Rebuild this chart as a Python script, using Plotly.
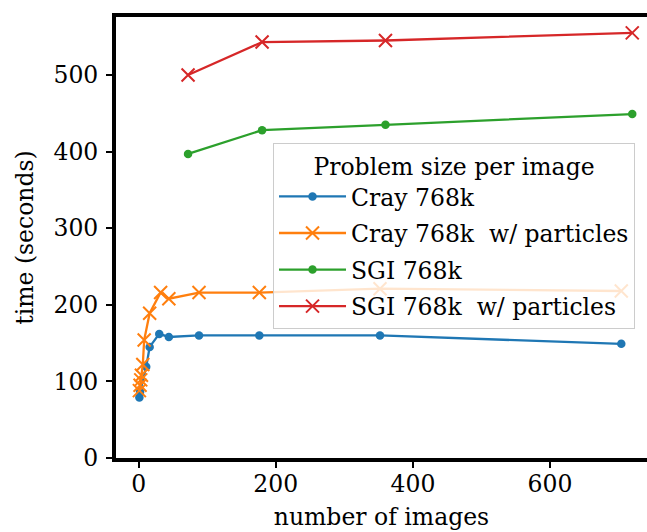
import plotly.graph_objects as go

# ---- data ----
cray_x = [1, 2, 11, 16, 30, 44, 88, 176, 352, 704]
cray_y = [79, 86, 119, 145, 162, 158, 160, 160, 160, 149]

cray_p_x = [1, 2, 3, 4, 6, 8, 16, 32, 44, 88, 176, 352, 704]
cray_p_y = [88, 95, 102, 108, 122, 154, 189, 216, 208, 216, 216, 221, 218]

sgi_x = [72, 180, 360, 720]
sgi_y = [397, 428, 435, 449]

sgi_p_x = [72, 180, 360, 720]
sgi_p_y = [500, 543, 545, 555]

series_names = ["Cray 768k", "Cray 768k  w/ particles", "SGI 768k", "SGI 768k  w/ particles"]
colors = ["#1f77b4", "#ff7f0e", "#2ca02c", "#d62728"]

x_ticks = [0, 200, 400, 600]
y_ticks = [0, 100, 200, 300, 400, 500]

FONT = "DejaVu Serif"
FS = 23.5

fig = go.Figure()

def dot_trace(x, y, name, color, group):
    return go.Scatter(
        x=x, y=y, name=name, mode="lines+markers", legendgroup=group,
        line=dict(color=color, width=2.3),
        marker=dict(symbol="circle", size=8.5, color=color),
    )

def x_trace(x, y, name, color, group):
    return go.Scatter(
        x=x, y=y, name=name, mode="lines+markers", legendgroup=group,
        line=dict(color=color, width=2.3),
        marker=dict(symbol="x-thin", size=13, color=color,
                    line=dict(color=color, width=2)),
    )

fig.add_trace(dot_trace(cray_x, cray_y, series_names[0], colors[0], "g0"))
fig.add_trace(x_trace(cray_p_x, cray_p_y, series_names[1], colors[1], "g1"))
fig.add_trace(dot_trace(sgi_x, sgi_y, series_names[2], colors[2], "g2"))
fig.add_trace(x_trace(sgi_p_x, sgi_p_y, series_names[3], colors[3], "g3"))

fig.update_layout(
    width=647, height=532,
    margin=dict(l=116, r=0, t=17, b=74, pad=0),
    paper_bgcolor="white", plot_bgcolor="white",
    font=dict(family=FONT, size=FS, color="black"),
    showlegend=True,
    legend=dict(
        x=0.2957, y=0.714, xanchor="left", yanchor="top",
        bgcolor="rgba(255,255,255,0.8)",
        bordercolor="#cccccc", borderwidth=1,
        font=dict(family=FONT, size=FS, color="black"),
        title=dict(text="Problem size per image", side="top center",
                   font=dict(family=FONT, size=FS, color="black")),
        tracegroupgap=3,
        itemwidth=67,
    ),
    xaxis=dict(
        range=[-33.1, 741.5],
        tickvals=x_ticks, ticktext=[str(v) for v in x_ticks],
        showgrid=False, zeroline=False,
        showline=True, linecolor="black", linewidth=4, mirror=True,
        ticks="outside", ticklen=6, tickwidth=1.6, tickcolor="black",
        ticklabelstandoff=-4,
        tickfont=dict(family=FONT, size=FS, color="black"),
        title=dict(text="number of images", font=dict(family=FONT, size=FS, color="black"),
                   standoff=12),
    ),
    yaxis=dict(
        range=[0, 575.7],
        tickvals=y_ticks, ticktext=[str(v) for v in y_ticks],
        showgrid=False, zeroline=False,
        showline=True, linecolor="black", linewidth=4, mirror=False,
        ticks="outside", ticklen=6, tickwidth=1.6, tickcolor="black",
        ticklabelstandoff=3,
        tickfont=dict(family=FONT, size=FS, color="black"),
        title=dict(text="time (seconds)", font=dict(family=FONT, size=FS, color="black"),
                   standoff=14),
    ),
)

fig.write_html("out.html")
